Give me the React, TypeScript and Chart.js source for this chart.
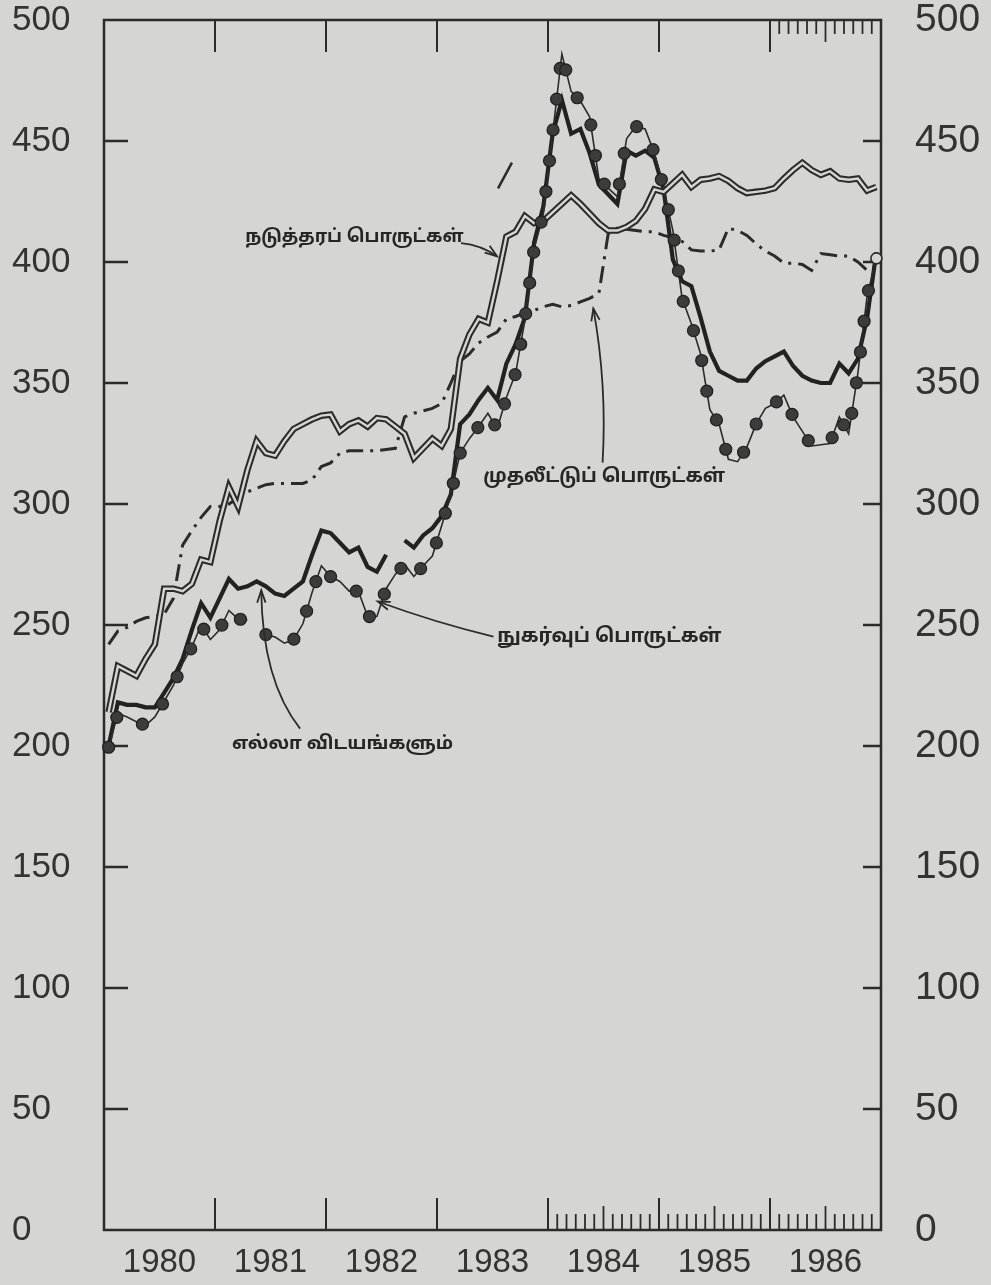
import React, { useEffect, useRef } from 'react';
import { Chart, registerables } from 'chart.js';

Chart.register(...registerables);

// ---------- data ----------
const yearLabels = ['1980', '1981', '1982', '1983', '1984', '1985', '1986'];
const yTickValues = [0, 50, 100, 150, 200, 250, 300, 350, 400, 450, 500];

// monthly index values, Jan 1980 .. Dec 1986 (null = break in the printed line)
const allItems = [
  200, 218, 217, 217, 216, 216, 222, 228, 236, 248, 259, 253,
  261, 269, 265, 266, 268, 266, 263, 262, 265, 268, 279, 289,
  288, 284, 280, 282, 274, 272, 279, null, 285, 282, 287, 290,
  295, 304, 333, 337, 343, 348, 343, 358, 366, 377, 408, 423,
  453, 467, 453, 455, 445, 432, 428, 424, 446, 444, 446, 443,
  430, 401, 392, 390, 377, 363, 355, 353, 351, 351, 356, 359,
  361, 363, 357, 353, 351, 350, 350, 358, 354, 360, 377, 404,
];

const consumerGoods = [
  199.5, 213.5, 212, 210, 208.5, 212, 218.5, 225, 234, 241, 250, 244,
  248, 256, 252.5, 252, null, 246, 245, 242.5, 244, 250.5, 263.5, 274.5,
  270, 268, 264, 264, 253.5, 253.5, 265, 271, 275, 270, 274.5, 278.5,
  291, 304, 321, 327, 332, 337.5, 331, 344, 354, 376, 405.5, 420,
  453, 486, 470.5, 466.5, 460, 434.5, 430.5, 427, 451, 456, 455, 445,
  430.5, 413, 385, 374.5, 362, 339, 333, 318.5, 317.5, 323.5, 333, 339.5,
  341.5, 345, 336, 330, 324, 324.5, 325, 336, 329, 354, 386, 401.5,
];

const intermediateGoods = [
  214, 233, 231, 229, 236, 242, 265, 265, 264, 267, 277, 276,
  293, 307, 299, 314, 326, 321, 320, 326, 331, 333, 335, 336.5,
  337, 330, 333, 334.5, 332, 335.5, 335, 332, 329, 319, 323, 327,
  324, 331, 360, 370, 376.5, 375, 392, 410.5, 412.5, 419, 416, 417,
  420.5, 424, 427.5, 424, 420, 416, 413, 413, 414.5, 417, 422, 430,
  429, 432.5, 436, 431, 434, 434.5, 435.5, 433.5, 430.5, 428.5, 429, 429.5,
  430.5, 434.5, 438, 441, 438, 436, 437.5, 434.5, 434, 434.5, 429.5, 431,
];

const investmentGoods = [
  242, 247.5, 249, 251.5, 253, 253.5, 254.5, 261, 283, 289, 294.5, 299,
  299, 300, 302.5, 305, 306.5, 308, 308.5, 308.5, 308.5, 308.5, 310, 315.5,
  317, 321, 322, 322, 322, 322, 322.5, 323, 336, 337.5, 338.5, 339.5,
  341.5, 350, 359, 362, 366.5, 369, 371, 376.5, 377.5, 379, 380, 381.5,
  382.5, 381.5, 382, 383.5, 385, 387, 411.5, 414, 413.5, 413, 412.5, 412.5,
  411, 410, 408.5, 405, 404.5, 404.5, 405, 414, 413, 411, 407.5, 404.5,
  402.5, 399.5, 399.5, 399, 396.5, 403.5, 403, 402.5, 402.5, 400, 396.5, 398,
];

const seriesNames = {
  intermediate: 'நடுத்தரப் பொருட்கள்',
  investment: 'முதலீட்டுப் பொருட்கள்',
  consumer: 'நுகர்வுப் பொருட்கள்',
  all: 'எல்லா விடயங்களும்',
};

// annotation anchors in data units: [month, index value]
const annotations = [
  { text: seriesNames.intermediate, size: 18, at: [15.26, 409.7], arrow: [[38.6, 407.8], [40.8, 407.0], [42.5, 402.3]] },
  { text: seriesNames.investment, size: 19, at: [41.0, 310.5], arrow: [[53.9, 317.1], [54.4, 349.0], [52.9, 380.8]] },
  { text: seriesNames.consumer, size: 19.5, at: [42.5, 244.4], arrow: [[42.1, 245.2], [35.8, 251.0], [29.6, 259.7]] },
  { text: seriesNames.all, size: 18.5, at: [13.85, 200.2], arrow: [[21.2, 207.2], [17.1, 227.1], [17.0, 264.3]] },
];
const strayMark = [[42.6, 430.4], [44.1, 441.1]];

// ---------- style ----------
const PAPER = '#d5d5d3';
const INK = '#2b2b2b';
const W = 991;
const H = 1285;
const TAMIL_FONT = '"Noto Sans Tamil", "Noto Serif Tamil", "Lohit Tamil", "Latha", "Noto Sans", sans-serif';

const toXY = (arr: (number | null)[]) => arr.map((v, i) => ({ x: i + 0.5, y: v }));

const decorPlugin = {
  id: 'decor',
  beforeDraw(chart: any) {
    const { ctx } = chart;
    ctx.save();
    ctx.fillStyle = PAPER;
    ctx.fillRect(0, 0, chart.width, chart.height);
    ctx.restore();
  },
  afterDatasetsDraw(chart: any) {
    const { ctx, chartArea: a, scales } = chart;
    const xs = scales.x;
    const ys = scales.y;
    const line = (x1: number, y1: number, x2: number, y2: number) => {
      ctx.beginPath();
      ctx.moveTo(x1, y1);
      ctx.lineTo(x2, y2);
      ctx.stroke();
    };
    ctx.save();
    ctx.strokeStyle = INK;
    ctx.lineCap = 'butt';

    // frame
    ctx.lineWidth = 2.5;
    ctx.strokeRect(a.left, a.top, a.right - a.left, a.bottom - a.top);

    // y ticks (inward on both sides)
    ctx.lineWidth = 2.5;
    yTickValues.forEach((v) => {
      if (v <= 0 || v >= 500) return;
      const py = ys.getPixelForValue(v);
      line(a.left, py, a.left + 24, py);
      line(a.right - 18, py, a.right, py);
    });

    // year boundary ticks (top and bottom)
    ctx.lineWidth = 2;
    for (let k = 1; k < yearLabels.length; k++) {
      const px = xs.getPixelForValue(12 * k);
      line(px, a.bottom, px, a.bottom - 32);
      line(px, a.top, px, a.top + 32);
    }
    // monthly ticks bottom 1985-86
    ctx.lineWidth = 1.8;
    for (let m = 49; m < 84; m++) {
      if (m % 12 === 0) continue;
      const px = xs.getPixelForValue(m);
      const len = m % 12 === 6 ? 24 : 16;
      line(px, a.bottom, px, a.bottom - len);
    }
    // monthly ticks top 1986
    for (let m = 73; m < 84; m++) {
      const px = xs.getPixelForValue(m);
      const len = m % 12 === 6 ? 22 : 14;
      line(px, a.top, px, a.top + len);
    }

    // consumer goods markers: dots spaced evenly along the drawn line
    const meta = chart.getDatasetMeta(2);
    const pts = meta.data;
    const spacing = 31;
    const dot = (x: number, y: number) => {
      ctx.beginPath();
      ctx.arc(x, y, 6, 0, Math.PI * 2);
      ctx.fillStyle = '#3c3c3c';
      ctx.fill();
      ctx.lineWidth = 1.2;
      ctx.strokeStyle = '#1f1f1f';
      ctx.stroke();
    };
    let prev: any = null;
    let acc = 0;
    const lastIdx = pts.length - 1;
    pts.forEach((p: any, i: number) => {
      if (p.skip) { prev = null; return; }
      if (!prev) {
        if (i !== lastIdx) dot(p.x, p.y);
        acc = 0;
        prev = p;
        return;
      }
      const sx = prev.x, sy = prev.y;
      const dx = p.x - sx, dy = p.y - sy;
      const seg = Math.hypot(dx, dy);
      let t = spacing - acc;
      while (t <= seg) {
        const f = t / seg;
        const qx = sx + dx * f, qy = sy + dy * f;
        if (!(i === lastIdx && seg - t < 8)) dot(qx, qy);
        t += spacing;
      }
      acc = seg - (t - spacing);
      prev = p;
    });
    const last = pts[lastIdx];
    if (last && !last.skip) {
      ctx.beginPath();
      ctx.arc(last.x, last.y, 5.5, 0, Math.PI * 2);
      ctx.fillStyle = PAPER;
      ctx.fill();
      ctx.lineWidth = 1.6;
      ctx.strokeStyle = INK;
      ctx.stroke();
    }

    // annotation labels and arrows
    ctx.fillStyle = '#262626';
    ctx.strokeStyle = INK;
    ctx.textBaseline = 'middle';
    ctx.textAlign = 'left';
    annotations.forEach((an) => {
      ctx.font = `bold ${an.size}px ${TAMIL_FONT}`;
      ctx.fillText(an.text, xs.getPixelForValue(an.at[0]), ys.getPixelForValue(an.at[1]));
      const [s, c, e] = an.arrow.map(([mx, vy]) => [xs.getPixelForValue(mx), ys.getPixelForValue(vy)]);
      ctx.lineWidth = 1.8;
      ctx.beginPath();
      ctx.moveTo(s[0], s[1]);
      ctx.quadraticCurveTo(c[0], c[1], e[0], e[1]);
      ctx.stroke();
      const ang = Math.atan2(e[1] - c[1], e[0] - c[0]);
      const hl = 13;
      const spread = 0.33;
      ctx.beginPath();
      ctx.moveTo(e[0] - hl * Math.cos(ang - spread), e[1] - hl * Math.sin(ang - spread));
      ctx.lineTo(e[0], e[1]);
      ctx.lineTo(e[0] - hl * Math.cos(ang + spread), e[1] - hl * Math.sin(ang + spread));
      ctx.stroke();
    });

    // stray pen mark
    ctx.lineWidth = 2.5;
    const m0 = strayMark[0], m1 = strayMark[1];
    line(xs.getPixelForValue(m0[0]), ys.getPixelForValue(m0[1]), xs.getPixelForValue(m1[0]), ys.getPixelForValue(m1[1]));

    ctx.restore();
  },
};

const yTickFont = { family: '"Liberation Sans", Arial, sans-serif', size: 35 };

const fitY = (w: number) => (scale: any) => {
  scale.width = w;
  scale.paddingTop = 0;
  scale.paddingBottom = 0;
};

export default function App() {
  const ref = useRef<HTMLCanvasElement>(null);

  useEffect(() => {
    document.body.style.margin = '0';
    document.body.style.background = PAPER;
    const canvas = ref.current;
    if (!canvas) return;
    const chart = new Chart(canvas, {
      type: 'line',
      data: {
        datasets: [
          {
            label: seriesNames.intermediate + ' (inner)',
            data: toXY(intermediateGoods),
            borderColor: PAPER,
            borderWidth: 2.4,
            pointRadius: 0,
            tension: 0,
          },
          {
            label: seriesNames.intermediate,
            data: toXY(intermediateGoods),
            borderColor: INK,
            borderWidth: 6.5,
            pointRadius: 0,
            tension: 0,
            borderJoinStyle: 'miter',
          },
          {
            label: seriesNames.consumer,
            data: toXY(consumerGoods),
            borderColor: INK,
            borderWidth: 1.6,
            pointRadius: 0,
            tension: 0,
            spanGaps: false,
          },
          {
            label: seriesNames.all,
            data: toXY(allItems),
            borderColor: '#222',
            borderWidth: 4.2,
            pointRadius: 0,
            tension: 0,
            spanGaps: false,
          },
          {
            label: seriesNames.investment,
            data: toXY(investmentGoods),
            borderColor: INK,
            borderWidth: 3,
            borderDash: [17, 7, 3, 7],
            pointRadius: 0,
            tension: 0,
          },
        ],
      } as any,
      options: {
        responsive: false,
        maintainAspectRatio: false,
        animation: false,
        devicePixelRatio: 1,
        events: [],
        layout: { padding: { left: 12, top: 20, right: 0, bottom: 0 } },
        plugins: {
          legend: { display: false },
          tooltip: { enabled: false },
        },
        scales: {
          x: {
            type: 'linear',
            position: 'bottom',
            min: 0,
            max: 84,
            grid: { display: false, drawTicks: false },
            border: { display: false },
            afterBuildTicks: (scale: any) => {
              scale.ticks = yearLabels.map((_, k) => ({ value: 12 * k + 6 }));
            },
            afterFit: (scale: any) => {
              scale.height = 55;
              scale.paddingLeft = 0;
              scale.paddingRight = 0;
            },
            ticks: {
              autoSkip: false,
              maxRotation: 0,
              padding: 13,
              color: '#333',
              font: { family: '"Liberation Sans", Arial, sans-serif', size: 33 },
              callback: (value: any) => yearLabels[Math.round((Number(value) - 6) / 12)] ?? '',
            },
          },
          y: {
            type: 'linear',
            position: 'left',
            min: 0,
            max: 500,
            grid: { display: false, drawTicks: false },
            border: { display: false },
            afterFit: fitY(92),
            ticks: { stepSize: 50, crossAlign: 'far', padding: 0, color: '#333', font: yTickFont },
          },
          y2: {
            type: 'linear',
            position: 'right',
            min: 0,
            max: 500,
            grid: { display: false, drawTicks: false },
            border: { display: false },
            afterFit: fitY(110),
            ticks: { stepSize: 50, padding: 34, color: '#333', font: { ...yTickFont, size: 39 } },
          },
        },
      } as any,
      plugins: [decorPlugin],
    });
    return () => chart.destroy();
  }, []);

  return <canvas ref={ref} width={W} height={H} style={{ display: 'block', width: W, height: H }} />;
}
